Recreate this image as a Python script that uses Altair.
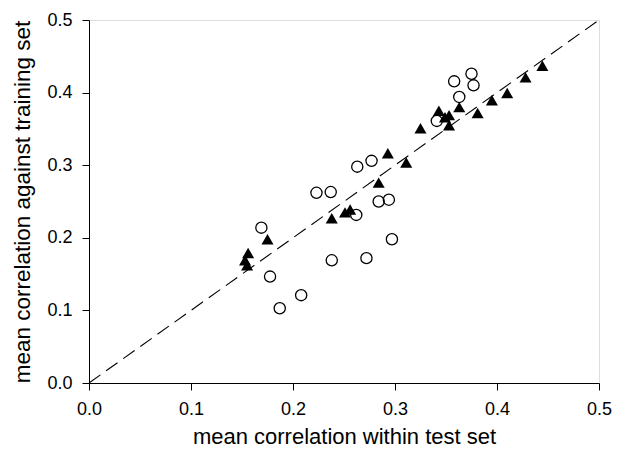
import altair as alt
import pandas as pd

circle_x = [0.375, 0.358, 0.377, 0.363, 0.341, 0.277, 0.263, 0.223, 0.237, 0.284,
            0.294, 0.262, 0.169, 0.297, 0.238, 0.272, 0.1775, 0.208, 0.187]
circle_y = [0.426, 0.4155, 0.410, 0.394, 0.361, 0.306, 0.298, 0.262, 0.263, 0.250,
            0.2525, 0.2315, 0.214, 0.198, 0.169, 0.172, 0.1466, 0.121, 0.103]

tri_x = [0.4445, 0.428, 0.410, 0.395, 0.381, 0.363, 0.353, 0.349, 0.343, 0.353,
         0.325, 0.311, 0.293, 0.284, 0.256, 0.251, 0.238, 0.175, 0.156, 0.153, 0.155]
tri_y = [0.437, 0.421, 0.3995, 0.3895, 0.372, 0.380, 0.369, 0.366, 0.375, 0.355,
         0.351, 0.3037, 0.3164, 0.276, 0.239, 0.235, 0.227, 0.198, 0.179, 0.169, 0.162]

diag = [0.0, 0.5]
ticks = [0.0, 0.1, 0.2, 0.3, 0.4, 0.5]

circles = pd.DataFrame({"x": circle_x, "y": circle_y})
tris = pd.DataFrame({"x": tri_x, "y": tri_y})
line_df = pd.DataFrame({"x": diag, "y": diag})

FONT = "Liberation Sans"

xs = alt.Scale(domain=[0, 0.5], nice=False, zero=False)
ys = alt.Scale(domain=[0, 0.5], nice=False, zero=False)

x_axis = alt.Axis(values=ticks, format=".1f", grid=False, tickSize=7, tickColor="black",
                  domainColor="black", labelFont=FONT, labelFontSize=18, labelColor="black",
                  labelPadding=10, labelFlush=False,
                  title="mean correlation within test set", titleFont=FONT, titleFontSize=22,
                  titleFontWeight="normal", titleColor="black", titleY=53,
                  titleBaseline="middle", titleAlign="center")
y_axis = alt.Axis(values=ticks, format=".1f", grid=False, tickSize=7, tickColor="black",
                  domainColor="black", labelFont=FONT, labelFontSize=18, labelColor="black",
                  labelPadding=10, labelFlush=False,
                  title="mean correlation against training set", titleFont=FONT, titleFontSize=22.5,
                  titleFontWeight="normal", titleColor="black", titleX=-67,
                  titleBaseline="middle", titleAlign="center", titleAngle=-90)

line = alt.Chart(line_df).mark_line(color="black", strokeWidth=1.1, strokeDash=[14, 7]).encode(
    x=alt.X("x:Q", scale=xs, axis=x_axis),
    y=alt.Y("y:Q", scale=ys, axis=y_axis),
)

pts_c = alt.Chart(circles).mark_point(shape="circle", filled=False, color="black",
                                      strokeWidth=1.3, size=125, opacity=1).encode(
    x=alt.X("x:Q", scale=xs),
    y=alt.Y("y:Q", scale=ys),
)

pts_t = alt.Chart(tris).mark_point(shape="triangle-up", filled=True, color="black",
                                   size=145, opacity=1).encode(
    x=alt.X("x:Q", scale=xs),
    y=alt.Y("y:Q", scale=ys),
)

chart = alt.layer(line, pts_c, pts_t).properties(
    width=510, height=363,
    autosize=alt.AutoSizeParams(type="none"),
    padding={"left": 81, "top": 12, "right": 16, "bottom": 69},
).configure_view(stroke="black", strokeWidth=1.2).configure(background="white")

chart.save("out.html", embed_options={"renderer": "svg", "actions": False})
